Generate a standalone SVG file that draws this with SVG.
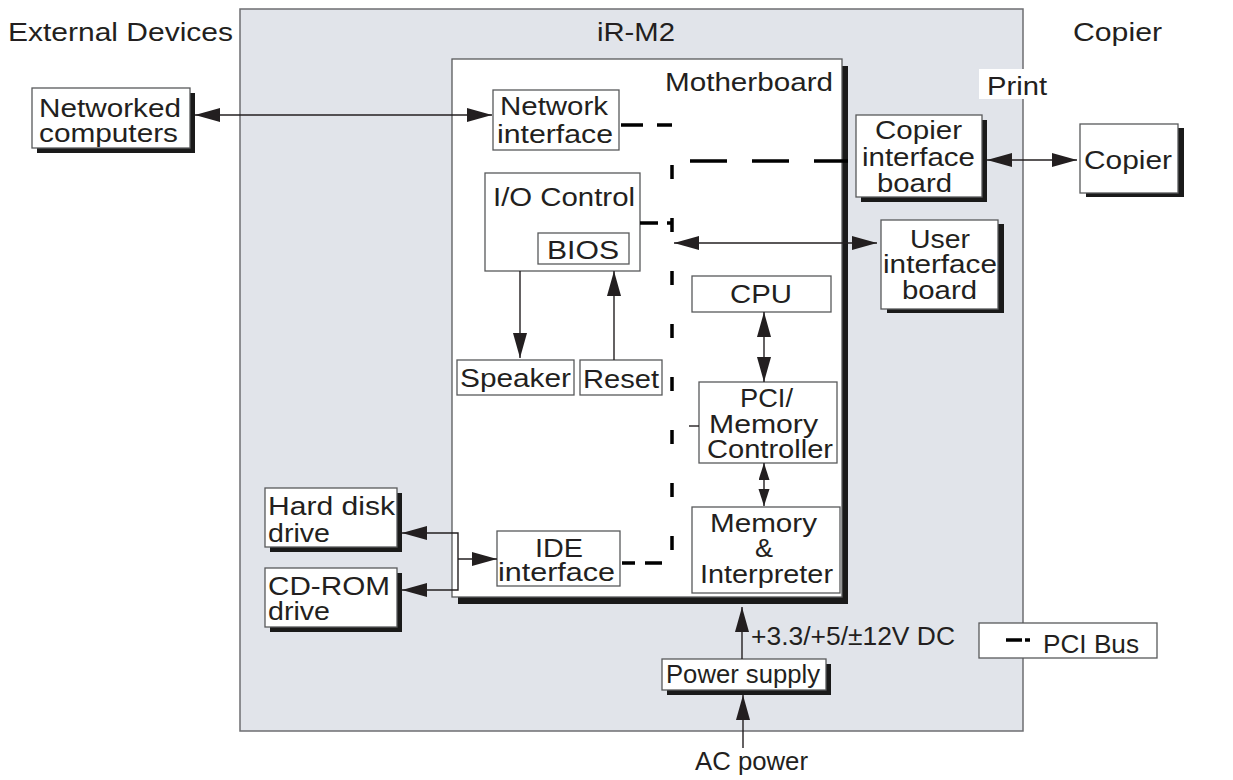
<svg xmlns="http://www.w3.org/2000/svg" width="1233" height="780" viewBox="0 0 1233 780">
<style>
text{font-family:"Liberation Sans",Arial,Helvetica,sans-serif;font-size:26px;fill:#231f20}
.box{fill:#fff;stroke:#58595b;stroke-width:1.3}
.sh{fill:#1a1a1a}
.ln{fill:none;stroke:#231f20;stroke-width:1.4}
.bus{fill:none;stroke:#000;stroke-width:3.5}
</style>
<defs>
<marker id="ah" markerUnits="userSpaceOnUse" markerWidth="26" markerHeight="14" refX="25" refY="7" orient="auto-start-reverse"><path d="M0,0 L25,7 L0,14 z" fill="#231f20"/></marker>
<marker id="ahs" markerUnits="userSpaceOnUse" markerWidth="18" markerHeight="12" refX="17" refY="5.5" orient="auto-start-reverse"><path d="M0,0 L17,5.5 L0,11 z" fill="#231f20"/></marker>
</defs>
<rect id="background" x="0" y="0" width="1233" height="780" fill="#fff"/>
<g id="irm2">
<rect x="240" y="9" width="783" height="722" fill="#e1e4ea" stroke="#6d6e71" stroke-width="1.5"/>
<text x="597" y="41" textLength="78" lengthAdjust="spacingAndGlyphs">iR-M2</text>
</g>
<g id="labels">
<text x="8" y="41" textLength="225" lengthAdjust="spacingAndGlyphs">External Devices</text>
<text x="1073" y="41" textLength="89" lengthAdjust="spacingAndGlyphs">Copier</text>
<rect x="979" y="69" width="68" height="30" fill="#fff"/>
<text x="987" y="95" textLength="60" lengthAdjust="spacingAndGlyphs">Print</text>
<text x="751" y="645" textLength="204" lengthAdjust="spacingAndGlyphs">+3.3/+5/±12V DC</text>
<text x="695" y="770" textLength="113" lengthAdjust="spacingAndGlyphs">AC power</text>
</g>
<g id="motherboard">
<rect class="sh" x="458" y="66" width="390" height="538"/>
<rect class="box" x="452" y="59" width="390" height="538"/>
<text x="665" y="91" textLength="168" lengthAdjust="spacingAndGlyphs">Motherboard</text>
</g>
<g id="networked-computers">
<rect class="sh" x="37" y="93" width="158" height="60"/>
<rect class="box" x="32" y="88" width="158" height="60"/>
<text x="39" y="117" textLength="142" lengthAdjust="spacingAndGlyphs">Networked</text>
<text x="39" y="142" textLength="139" lengthAdjust="spacingAndGlyphs">computers</text>
</g>
<g id="network-interface">
<rect class="box" x="493" y="90" width="126" height="60"/>
<text x="500" y="115" textLength="108" lengthAdjust="spacingAndGlyphs">Network</text>
<text x="497" y="143" textLength="116" lengthAdjust="spacingAndGlyphs">interface</text>
</g>
<g id="io-control">
<rect class="box" x="485" y="173" width="155" height="98"/>
<text x="493" y="206" textLength="142" lengthAdjust="spacingAndGlyphs">I/O Control</text>
</g>
<g id="bios">
<rect class="box" x="538" y="233" width="91" height="31"/>
<text x="547" y="259" textLength="72" lengthAdjust="spacingAndGlyphs">BIOS</text>
</g>
<g id="speaker">
<rect class="box" x="457" y="360" width="117" height="35"/>
<text x="460" y="387" textLength="111" lengthAdjust="spacingAndGlyphs">Speaker</text>
</g>
<g id="reset">
<rect class="box" x="580" y="360" width="82" height="35"/>
<text x="583" y="388" textLength="76" lengthAdjust="spacingAndGlyphs">Reset</text>
</g>
<g id="cpu">
<rect class="box" x="692" y="276" width="139" height="36"/>
<text x="730" y="303" textLength="62" lengthAdjust="spacingAndGlyphs">CPU</text>
</g>
<g id="pci-memory-controller">
<rect class="box" x="699" y="382" width="138" height="81"/>
<text x="740" y="407" textLength="53" lengthAdjust="spacingAndGlyphs">PCI/</text>
<text x="709" y="433" textLength="109" lengthAdjust="spacingAndGlyphs">Memory</text>
<text x="707" y="458" textLength="126" lengthAdjust="spacingAndGlyphs">Controller</text>
</g>
<g id="memory-interpreter">
<rect class="box" x="692" y="507" width="148" height="86"/>
<text x="710" y="532" textLength="107" lengthAdjust="spacingAndGlyphs">Memory</text>
<text x="755" y="557" textLength="18" lengthAdjust="spacingAndGlyphs">&amp;</text>
<text x="700" y="583" textLength="133" lengthAdjust="spacingAndGlyphs">Interpreter</text>
</g>
<g id="ide-interface">
<rect class="box" x="497" y="531" width="123" height="55"/>
<text x="535" y="557" textLength="48" lengthAdjust="spacingAndGlyphs">IDE</text>
<text x="498" y="581" textLength="117" lengthAdjust="spacingAndGlyphs">interface</text>
</g>
<g id="hard-disk-drive">
<rect class="sh" x="270" y="493" width="132" height="59"/>
<rect class="box" x="265" y="488" width="132" height="59"/>
<text x="268" y="515" textLength="127" lengthAdjust="spacingAndGlyphs">Hard disk</text>
<text x="268" y="542" textLength="62" lengthAdjust="spacingAndGlyphs">drive</text>
</g>
<g id="cd-rom-drive">
<rect class="sh" x="270" y="573" width="132" height="59"/>
<rect class="box" x="265" y="568" width="132" height="59"/>
<text x="268" y="595" textLength="122" lengthAdjust="spacingAndGlyphs">CD-ROM</text>
<text x="268" y="620" textLength="62" lengthAdjust="spacingAndGlyphs">drive</text>
</g>
<g id="copier-interface-board">
<rect class="sh" x="861" y="120" width="126" height="82"/>
<rect class="box" x="856" y="115" width="126" height="82"/>
<text x="875" y="139" textLength="87" lengthAdjust="spacingAndGlyphs">Copier</text>
<text x="862" y="166" textLength="113" lengthAdjust="spacingAndGlyphs">interface</text>
<text x="877" y="192" textLength="75" lengthAdjust="spacingAndGlyphs">board</text>
</g>
<g id="copier">
<rect class="sh" x="1086" y="128" width="98" height="69"/>
<rect class="box" x="1080" y="124" width="98" height="69"/>
<text x="1084" y="169" textLength="88" lengthAdjust="spacingAndGlyphs">Copier</text>
</g>
<g id="user-interface-board">
<rect class="sh" x="887" y="224" width="117" height="89"/>
<rect class="box" x="881" y="220" width="117" height="89"/>
<text x="910" y="248" textLength="60" lengthAdjust="spacingAndGlyphs">User</text>
<text x="883" y="273" textLength="114" lengthAdjust="spacingAndGlyphs">interface</text>
<text x="902" y="299" textLength="75" lengthAdjust="spacingAndGlyphs">board</text>
</g>
<g id="power-supply">
<rect class="sh" x="667" y="664" width="164" height="31"/>
<rect class="box" x="662" y="659" width="164" height="31"/>
<text x="666" y="683" textLength="154" lengthAdjust="spacingAndGlyphs">Power supply</text>
</g>
<g id="legend">
<rect x="979" y="623" width="178" height="35" fill="#fff" stroke="#58595b" stroke-width="1.3"/>
<path class="bus" d="M1006,640 H1030" stroke-dasharray="16 3 5 50"/>
<text x="1043" y="653" textLength="96" lengthAdjust="spacingAndGlyphs">PCI Bus</text>
</g>
<g id="connectors">
<path class="bus" d="M621,125 H672" stroke-dasharray="22 14"/>
<path class="bus" d="M672,165 V552" stroke-dasharray="14 39"/>
<path class="bus" d="M640,223 H672" stroke-dasharray="18 9 4 50"/>
<path class="bus" d="M690,161 H848" stroke-dasharray="37 25"/>
<path class="bus" d="M622,563 H662" stroke-dasharray="13 10 17 100"/>
<path class="ln" d="M689,426 H699" stroke-width="1.8"/>
<path class="ln" d="M195,115 H492" marker-start="url(#ah)" marker-end="url(#ah)"/>
<path class="ln" d="M987,160 H1077" marker-start="url(#ah)" marker-end="url(#ah)"/>
<path class="ln" d="M674,243 H877" marker-start="url(#ah)" marker-end="url(#ah)"/>
<path class="ln" d="M520,271 V358" marker-end="url(#ah)"/>
<path class="ln" d="M614,360 V271" marker-end="url(#ah)"/>
<path class="ln" d="M764,312 V382" marker-start="url(#ah)" marker-end="url(#ah)"/>
<path class="ln" d="M764,463 V506" marker-start="url(#ahs)" marker-end="url(#ahs)"/>
<path class="ln" d="M402,533 H458 V590 H402" marker-start="url(#ah)" marker-end="url(#ah)"/>
<path class="ln" d="M458,559 H497" marker-end="url(#ah)"/>
<path class="ln" d="M742,659 V607" marker-end="url(#ah)"/>
<path class="ln" d="M743,748 V695" marker-end="url(#ah)"/>
</g>
</svg>
